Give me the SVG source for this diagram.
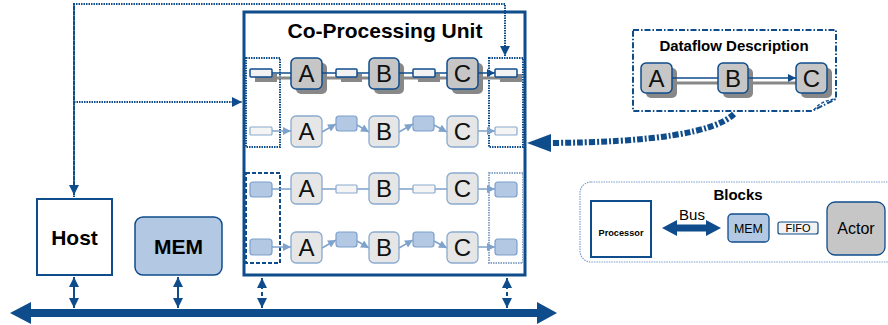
<svg xmlns="http://www.w3.org/2000/svg" width="888" height="325" viewBox="0 0 888 325">
<style>
text{font-family:"Liberation Sans",Arial,sans-serif;text-anchor:middle}
.b{font-weight:bold}
.lt{font-size:24px;fill:#111}
.a1{fill:#c6c6c6;stroke:#0f4c8c;stroke-width:1.5}
.a2{fill:#e6e6e6;stroke:#89aad0;stroke-width:1.3}
.sh{fill:#888}
.f1{fill:#f2f2f2;stroke:#0f4c8c;stroke-width:1.5}
.f2{fill:#f4f4f4;stroke:#89aad0;stroke-width:1.2}
.m{fill:#b3c8e3;stroke:#7c9fcb;stroke-width:1.2}
.c1{stroke:#0f4c8c;stroke-width:1.5;fill:none;marker-end:url(#ad)}
.c2{stroke:#7fa2cc;stroke-width:1.5;fill:none;marker-end:url(#al)}
.cs{stroke:#888;stroke-width:3;fill:none}
.dot{stroke:#0f4c8c;stroke-width:2;stroke-dasharray:1.5 1;fill:none}
</style>
<defs>
<marker id="ad" viewBox="0 0 10 10" refX="10" refY="5" markerWidth="9" markerHeight="8" markerUnits="userSpaceOnUse" orient="auto"><path d="M0 0L10 5L0 10Z" fill="#0f4c8c"/></marker>
<marker id="al" viewBox="0 0 10 10" refX="10" refY="5" markerWidth="9" markerHeight="8" markerUnits="userSpaceOnUse" orient="auto"><path d="M0 0L10 5L0 10Z" fill="#7fa2cc"/></marker>
<marker id="ab" viewBox="0 0 10 10" refX="10" refY="5" markerWidth="11" markerHeight="10" markerUnits="userSpaceOnUse" orient="auto-start-reverse"><path d="M0 0L10 5L0 10Z" fill="#0f4c8c"/></marker>
</defs>

<!-- bus -->
<g id="bus">
  <rect x="28" y="309" width="512" height="8" fill="#0f4c8c"/>
  <path d="M10 313L31 302L31 324Z" fill="#0f4c8c"/>
  <path d="M557 313L537 302L537 324Z" fill="#0f4c8c"/>
</g>

<g id="host">
  <rect x="37" y="199" width="75" height="76" fill="#fff" stroke="#0f4c8c" stroke-width="2"/>
  <text x="74.5" y="245" class="b" font-size="21">Host</text>
</g>
<g id="mem">
  <rect x="135" y="217" width="87" height="58" rx="8" fill="#b3c8e3" stroke="#0f4c8c" stroke-width="1.5"/>
  <text x="178.5" y="254" class="b" font-size="21">MEM</text>
</g>

<g id="cpu">
  <rect x="244" y="12" width="281" height="263" fill="#fff" stroke="#0f4c8c" stroke-width="3"/>
  <text x="385" y="38" class="b" font-size="21">Co-Processing Unit</text>
  <rect x="246" y="58" width="34" height="89" fill="none" stroke="#0f4c8c" stroke-width="2" stroke-dasharray="1.5 1"/>
  <rect x="489" y="58" width="34" height="89" fill="none" stroke="#0f4c8c" stroke-width="2" stroke-dasharray="1.5 1"/>
  <rect x="246" y="173" width="34" height="90" fill="none" stroke="#0f4c8c" stroke-width="2" stroke-dasharray="4 2"/>
  <rect x="489" y="173" width="34" height="90" fill="none" stroke="#8aa6c8" stroke-width="2" stroke-dasharray="1.5 1"/>
</g>

<!-- row 1 -->
<g id="row1">
  <path class="cs" d="M277 78H296M327 78H341M362 78H374M404 78H418M440 78H452M483 78H500"/>
  <rect class="sh" x="255" y="74" width="22" height="8"/>
  <rect class="sh" x="341" y="74" width="21" height="8"/>
  <rect class="sh" x="418" y="74" width="22" height="8"/>
  <rect class="sh" x="500" y="74" width="22" height="8"/>
  <rect class="sh" x="296" y="63" width="31" height="31" rx="5"/>
  <rect class="sh" x="374" y="63" width="30" height="31" rx="5"/>
  <rect class="sh" x="452" y="63" width="31" height="31" rx="5"/>
  <path class="c1" d="M272 73H291M322 73H336M357 73H369M399 73H413M435 73H447M478 73H495"/>
  <rect class="f1" x="250" y="69" width="22" height="8" rx="1"/>
  <rect class="f1" x="336" y="69" width="21" height="8" rx="1"/>
  <rect class="f1" x="413" y="69" width="22" height="8" rx="1"/>
  <rect class="f1" x="495" y="69" width="22" height="8" rx="1"/>
  <g id="r1a"><rect class="a1" x="291" y="58" width="31" height="31" rx="5"/><text class="lt" x="306.5" y="82">A</text></g>
  <g id="r1b"><rect class="a1" x="369" y="58" width="30" height="31" rx="5"/><text class="lt" x="384" y="82">B</text></g>
  <g id="r1c"><rect class="a1" x="447" y="58" width="31" height="31" rx="5"/><text class="lt" x="462.5" y="82">C</text></g>
</g>

<!-- row 2 -->
<g id="row2">
  <path class="c2" d="M272 131H291"/>
  <path class="c2" d="M322 132L336 124"/>
  <path class="c2" d="M357 125L369 132"/>
  <path class="c2" d="M399 132L413 124"/>
  <path class="c2" d="M434 125L447 132"/>
  <path class="c2" d="M478 131H495"/>
  <rect class="f2" x="250" y="127" width="22" height="8" rx="1"/>
  <rect class="m" x="336" y="116" width="21" height="15" rx="3"/>
  <rect class="m" x="413" y="116" width="21" height="15" rx="3"/>
  <rect class="f2" x="495" y="127" width="22" height="8" rx="1"/>
  <g id="r2a"><rect class="a2" x="291" y="116" width="31" height="31" rx="5"/><text class="lt" x="306.5" y="140">A</text></g>
  <g id="r2b"><rect class="a2" x="369" y="116" width="30" height="31" rx="5"/><text class="lt" x="384" y="140">B</text></g>
  <g id="r2c"><rect class="a2" x="447" y="116" width="31" height="31" rx="5"/><text class="lt" x="462.5" y="140">C</text></g>
</g>

<!-- row 3 -->
<g id="row3">
  <path class="c2" d="M272 189H291M322 189H336M357 189H369M399 189H413M435 189H447M478 189H495"/>
  <rect class="m" x="250" y="182" width="22" height="15" rx="3"/>
  <rect class="f2" x="336" y="185" width="21" height="8" rx="1"/>
  <rect class="f2" x="413" y="185" width="22" height="8" rx="1"/>
  <rect class="m" x="495" y="182" width="22" height="15" rx="3"/>
  <g id="r3a"><rect class="a2" x="291" y="173" width="31" height="31" rx="5"/><text class="lt" x="306.5" y="197">A</text></g>
  <g id="r3b"><rect class="a2" x="369" y="173" width="30" height="31" rx="5"/><text class="lt" x="384" y="197">B</text></g>
  <g id="r3c"><rect class="a2" x="447" y="173" width="31" height="31" rx="5"/><text class="lt" x="462.5" y="197">C</text></g>
</g>

<!-- row 4 -->
<g id="row4">
  <path class="c2" d="M272 247H291"/>
  <path class="c2" d="M322 248L336 240"/>
  <path class="c2" d="M357 241L369 248"/>
  <path class="c2" d="M399 248L413 240"/>
  <path class="c2" d="M434 241L447 248"/>
  <path class="c2" d="M478 247H495"/>
  <rect class="m" x="250" y="239" width="22" height="16" rx="3"/>
  <rect class="m" x="336" y="232" width="21" height="15" rx="3"/>
  <rect class="m" x="413" y="232" width="21" height="15" rx="3"/>
  <rect class="m" x="495" y="239" width="22" height="16" rx="3"/>
  <g id="r4a"><rect class="a2" x="291" y="232" width="31" height="31" rx="5"/><text class="lt" x="306.5" y="256">A</text></g>
  <g id="r4b"><rect class="a2" x="369" y="232" width="30" height="31" rx="5"/><text class="lt" x="384" y="256">B</text></g>
  <g id="r4c"><rect class="a2" x="447" y="232" width="31" height="31" rx="5"/><text class="lt" x="462.5" y="256">C</text></g>
</g>

<!-- dataflow description -->
<g id="dataflow">
  <path d="M633 30H836V99L812 111H633Z" fill="#fff" stroke="#0f4c8c" stroke-width="2" stroke-dasharray="6 2 1.5 2"/>
  <path d="M814 110Q820 101 836 99" fill="none" stroke="#0f4c8c" stroke-width="1.5" stroke-dasharray="3 2"/>
  <text x="734" y="51" class="b" font-size="15">Dataflow Description</text>
  <path class="cs" d="M677 83H723M753 83H801"/>
  <rect class="sh" x="646" y="68" width="31" height="30" rx="5"/>
  <rect class="sh" x="723" y="68" width="30" height="30" rx="5"/>
  <rect class="sh" x="801" y="68" width="31" height="30" rx="5"/>
  <path class="c1" d="M672 78H718M748 78H796"/>
  <g id="dfa"><rect class="a1" x="641" y="63" width="31" height="30" rx="5"/><text class="lt" x="656.5" y="86.5">A</text></g>
  <g id="dfb"><rect class="a1" x="718" y="63" width="30" height="30" rx="5"/><text class="lt" x="733" y="86.5">B</text></g>
  <g id="dfc"><rect class="a1" x="796" y="63" width="31" height="30" rx="5"/><text class="lt" x="811.5" y="86.5">C</text></g>
</g>

<!-- legend -->
<g id="blocks">
  <rect x="580" y="182" width="318" height="80" rx="11" fill="#fff" stroke="#7c9fcb" stroke-width="1.2" stroke-dasharray="1.5 1"/>
  <text x="738" y="200" class="b" font-size="15">Blocks</text>
  <g id="lg-proc"><rect x="591" y="201" width="60" height="56" fill="#fff" stroke="#0f4c8c" stroke-width="2"/><text x="621" y="236" class="b" font-size="9.2">Processor</text></g>
  <g id="lg-bus">
    <rect x="675" y="224.5" width="34" height="7" fill="#0f4c8c"/>
    <path d="M662 228L677 220V236Z M721 228L706 220V236Z" fill="#0f4c8c"/>
    <text x="692" y="220" font-size="15">Bus</text>
  </g>
  <g id="lg-mem"><rect x="728" y="214" width="41" height="28" rx="4" fill="#b3c8e3" stroke="#0f4c8c" stroke-width="1.3"/><text x="748.5" y="232.5" font-size="12.4">MEM</text></g>
  <g id="lg-fifo"><rect x="778" y="222" width="40" height="12" rx="2" fill="#f2f2f2" stroke="#0f4c8c" stroke-width="1.2"/><text x="798" y="232" font-size="11">FIFO</text></g>
  <g id="lg-actor"><rect x="827" y="202" width="58" height="53" rx="8" fill="#c6c6c6" stroke="#0f4c8c" stroke-width="1.3"/><text x="856" y="234" font-size="16">Actor</text></g>
</g>

<!-- connectors -->
<g id="connectors">
  <path class="dot" d="M74 197V4H505V56" marker-end="url(#ab)"/>
  <path class="dot" d="M74 4V195" marker-end="url(#ab)"/>
  <path class="dot" d="M74 102H242" marker-end="url(#ab)"/>
  <path d="M262 278V308" stroke="#0f4c8c" stroke-width="2" stroke-dasharray="4 3" fill="none" marker-start="url(#ab)" marker-end="url(#ab)"/>
  <path d="M507 278V308" stroke="#0f4c8c" stroke-width="2" stroke-dasharray="4 3" fill="none" marker-start="url(#ab)" marker-end="url(#ab)"/>
  <path d="M74 277V308" stroke="#0f4c8c" stroke-width="2" fill="none" marker-start="url(#ab)" marker-end="url(#ab)"/>
  <path d="M178 277V308" stroke="#0f4c8c" stroke-width="2" fill="none" marker-start="url(#ab)" marker-end="url(#ab)"/>
  <path d="M734 114Q705 142 548 143" stroke="#0f4c8c" stroke-width="6" stroke-dasharray="6 2 2 2" fill="none"/>
  <path d="M527 143L551 134L551 152Z" fill="#0f4c8c"/>
</g>
</svg>
